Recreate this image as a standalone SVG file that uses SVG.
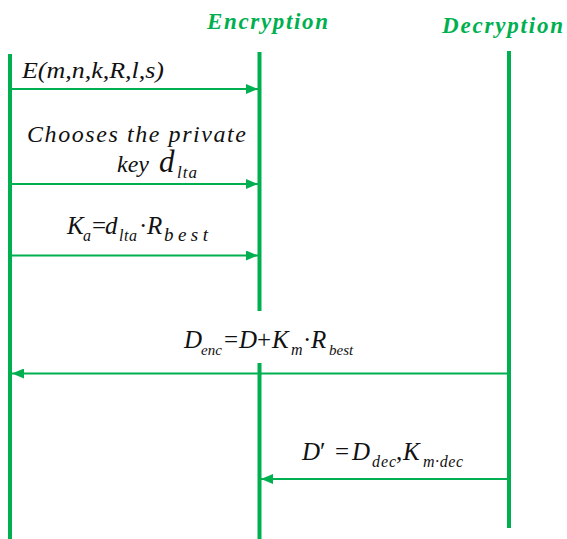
<svg xmlns="http://www.w3.org/2000/svg" width="567" height="539" viewBox="0 0 567 539">
  <style>
    .life { stroke: #00b050; stroke-width: 4; fill: none; }
    .msg { stroke: #00b050; stroke-width: 2; fill: none; }
    .title { font-family: "Liberation Serif", "Times New Roman", "DejaVu Serif", serif; font-style: italic; font-weight: bold; font-size: 23px; fill: #00b050; }
    .math { font-family: "Liberation Serif", "Times New Roman", "DejaVu Serif", serif; font-style: italic; fill: #111; }
    .up { font-family: "Liberation Serif", "Times New Roman", "DejaVu Serif", serif; fill: #111; }
    .big { font-size: 25px; }
    .sub { font-size: 16px; }
  </style>
  <defs>
    <marker id="head" markerWidth="12" markerHeight="10" refX="12" refY="5" orient="auto" markerUnits="userSpaceOnUse">
      <path d="M0,0 L12,5 L0,10 Z" fill="#00b050"/>
    </marker>
  </defs>

  <!-- participant headings -->
  <g id="encryption">
    <text class="title" x="207" y="29" textLength="121" lengthAdjust="spacing">Encryption</text>
  </g>
  <g id="decryption">
    <text class="title" x="442" y="33" textLength="121" lengthAdjust="spacing">Decryption</text>
  </g>

  <!-- lifelines -->
  <g id="lifelines">
    <line class="life" x1="10" y1="54" x2="10" y2="539"/>
    <line class="life" x1="259.5" y1="52" x2="259.5" y2="311"/>
    <line class="life" x1="259.5" y1="363" x2="259.5" y2="539"/>
    <line class="life" x1="509" y1="51" x2="509" y2="528"/>
  </g>

  <!-- messages -->
  <g id="connectors">
    <line class="msg" x1="10" y1="89" x2="258" y2="89" marker-end="url(#head)"/>
    <line class="msg" x1="10" y1="184" x2="258" y2="184" marker-end="url(#head)"/>
    <line class="msg" x1="10" y1="255.5" x2="258" y2="255.5" marker-end="url(#head)"/>
    <line class="msg" x1="509" y1="373.5" x2="12" y2="373.5" marker-end="url(#head)"/>
    <line class="msg" x1="509" y1="479" x2="261" y2="479" marker-end="url(#head)"/>
  </g>

  <!-- message labels -->
  <g id="label-e">
    <text class="math" style="font-size:24px" x="22" y="78" textLength="142" lengthAdjust="spacingAndGlyphs">E(m,n,k,R,l,s)</text>
  </g>
  <g id="label-choose">
    <text class="math" style="font-size:24px" x="27" y="142" textLength="219" lengthAdjust="spacing">Chooses the private</text>
    <text class="math" style="font-size:24px" x="117" y="172" textLength="32" lengthAdjust="spacing">key</text>
    <text class="math" style="font-size:31px" x="159" y="172">d</text>
    <text class="math" style="font-size:17px" x="177" y="178" textLength="20" lengthAdjust="spacing">lta</text>
  </g>
  <g id="label-ka">
    <text class="math big" x="67" y="234">K</text>
    <text class="math sub" x="83" y="241">a</text>
    <text class="up big" x="92" y="234">=</text>
    <text class="math big" x="105" y="234">d</text>
    <text class="math sub" x="119" y="241" textLength="18" lengthAdjust="spacing">lta</text>
    <text class="up big" x="139" y="234">·</text>
    <text class="math big" x="147" y="234">R</text>
    <text class="math" style="font-size:19px" x="164" y="241" textLength="44" lengthAdjust="spacing">best</text>
  </g>
  <g id="label-denc">
    <text class="math big" x="184" y="348">D</text>
    <text class="math" style="font-size:15px" x="201" y="355">enc</text>
    <text class="up big" x="224" y="348">=</text>
    <text class="math big" x="239" y="348">D</text>
    <text class="up big" x="257" y="348">+</text>
    <text class="math big" x="272" y="348">K</text>
    <text class="math sub" x="291" y="355">m</text>
    <text class="up big" x="303" y="348">·</text>
    <text class="math big" x="311" y="348">R</text>
    <text class="math" style="font-size:15px" x="329" y="355">best</text>
  </g>
  <g id="label-dprime">
    <text class="math big" x="302" y="460">D</text>
    <text class="up big" x="320" y="460">′</text>
    <text class="up big" x="335" y="460">=</text>
    <text class="math big" x="352" y="460">D</text>
    <text class="math sub" x="372" y="467" textLength="24" lengthAdjust="spacing">dec</text>
    <text class="up big" x="396" y="460">,</text>
    <text class="math big" x="403" y="460">K</text>
    <text class="math sub" x="423" y="467" textLength="40" lengthAdjust="spacing">m·dec</text>
  </g>
</svg>
